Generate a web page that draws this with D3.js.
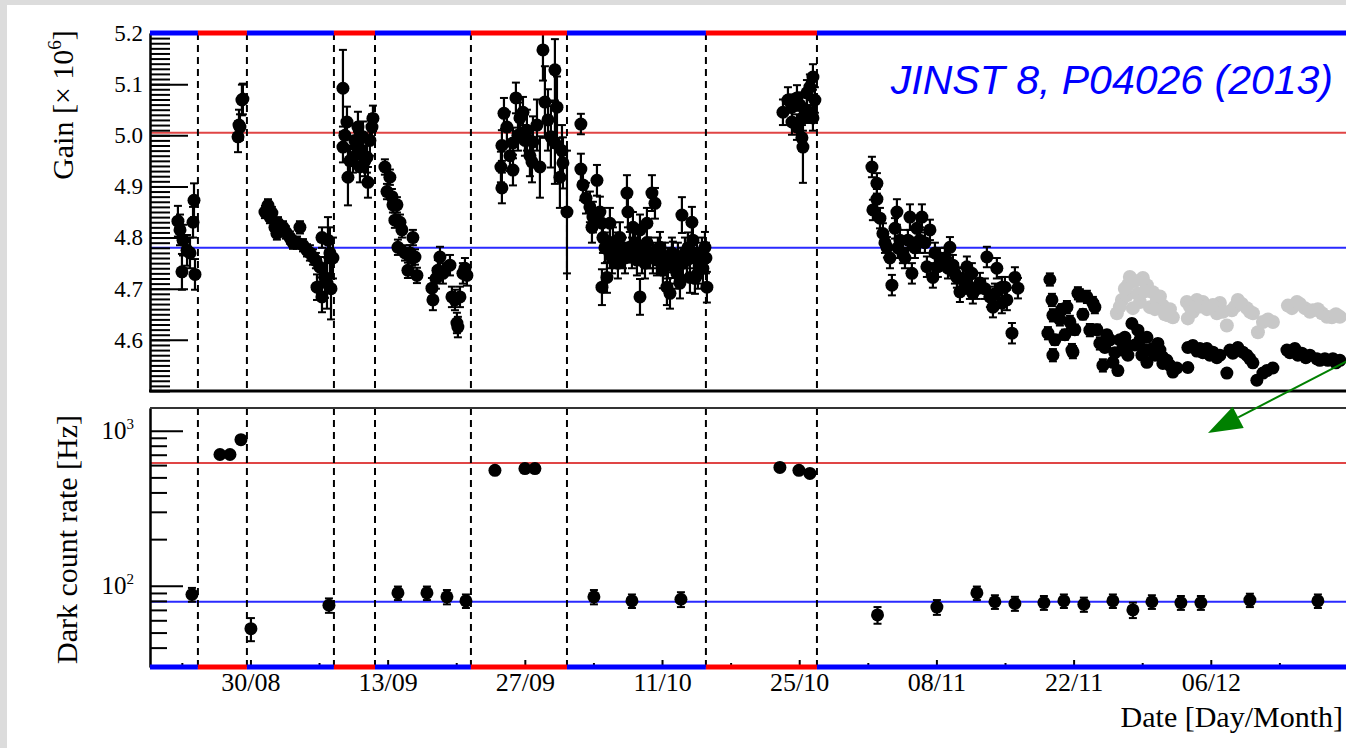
<!DOCTYPE html>
<html>
<head>
<meta charset="utf-8">
<title>Gain and dark count rate vs date</title>
<script src="https://d3js.org/d3.v7.min.js"></script>
<style>
  body { margin: 0; background: #fff; }
  svg { display: block; }
  text { font-family: "Liberation Serif", "Times New Roman", serif; fill: #000; }
  .tick line { stroke: #000; stroke-width: 2px; }
  .domain { stroke: #000; stroke-width: 2px; }
</style>
</head>
<body>
<svg></svg>
<script>
// days counted from 1 Aug 2012, 00:00 UTC
var axisStartDay = 18.75, axisEndDay = 140.9;

// gain [x 10^6] of the monitored PMT
var gainDay = [
  21.60, 21.81, 22.01, 22.12, 22.53, 22.83, 23.14, 23.24, 23.34,
  27.73, 27.83, 27.93, 28.13, 28.23,
  30.48, 30.79, 30.99, 31.19, 31.50, 31.70, 31.81, 32.32, 32.62, 33.03, 33.34, 33.75, 34.05, 34.36, 34.77,
  35.07, 35.38, 35.68, 35.79, 36.09, 36.30, 36.30, 36.60, 36.81, 36.91, 37.11, 37.22, 37.42,
  38.44, 38.44, 38.64, 38.85, 38.95, 39.15, 39.46, 39.66, 39.87, 39.97, 40.17, 40.38, 40.48, 40.68, 40.89,
  40.99, 41.19, 41.40, 41.50,
  42.72, 42.93, 43.23, 43.44, 43.54, 43.74, 43.95, 44.05, 44.26, 44.46, 44.77, 45.07, 45.28, 45.48, 45.58,
  45.79, 45.99, 47.52, 47.62, 47.93, 48.13, 48.34, 48.64, 49.36, 49.56, 49.87, 50.07, 50.17, 50.38, 50.68,
  50.89, 51.09,
  54.56, 54.66, 54.66, 54.87, 55.17, 55.48, 55.79, 55.79, 56.09, 56.30, 56.50, 56.81, 57.01, 57.21, 57.52,
  57.73, 57.83, 58.24, 58.54, 58.85, 59.05, 59.36, 59.66, 60.07, 60.07, 60.28, 60.58, 60.79, 60.89, 61.30,
  62.72, 62.72, 62.93, 63.24, 63.64, 63.85, 63.95, 64.36, 64.66, 64.87, 64.87, 64.97, 65.38, 65.68, 65.68,
  65.99, 66.19, 66.50, 66.70, 67.22, 67.42, 67.52, 67.72, 68.03, 68.24, 68.44, 68.75, 68.75, 69.26, 69.46,
  69.46, 69.77, 69.97, 70.28, 70.48, 70.79, 71.09, 71.30, 71.50, 71.81, 72.11, 72.32, 72.52, 72.83, 73.03,
  73.34, 73.54, 73.85, 74.05, 74.15, 74.36, 74.56, 74.87, 75.17, 75.38, 75.58,
  65.17, 65.89, 66.40, 67.01, 67.93, 68.54, 68.95, 69.56, 70.07, 70.58, 70.99, 71.60, 72.01, 72.62, 73.13,
  73.64, 74.25, 74.66, 75.07, 75.48,
  83.34, 83.85, 84.26, 84.26, 84.77, 84.77, 85.07, 85.28, 85.38, 85.38, 85.79, 85.79, 86.09, 86.40, 86.40, 86.60,
  92.42, 92.52, 92.93, 92.93, 93.24, 93.54, 93.95, 94.46, 94.77, 94.97, 95.28, 95.58, 96.09, 96.30, 96.50,
  97.01, 97.32, 97.52, 98.03, 98.34, 98.64, 98.85, 99.15, 99.87, 100.38, 100.68, 101.09, 101.40, 101.70, 102.11,
  102.62, 102.72, 103.13, 103.44, 104.15, 104.46, 104.77, 105.17, 105.68, 105.68, 105.99, 106.19, 106.71, 107.01, 107.32,
  93.75, 94.26, 95.07, 95.79, 96.81, 97.83, 99.36, 100.18, 100.89, 101.91, 102.42, 103.95, 104.97,
  110.38, 110.58, 110.79, 110.89, 110.89, 111.60, 112.32, 112.62, 112.83, 112.93, 113.44, 113.64, 114.36, 114.66, 114.97,
  115.17, 115.68, 115.99, 116.40, 116.70, 117.01, 117.52, 117.93, 118.23, 118.54, 118.95, 119.26, 119.56, 119.97, 120.48,
  120.48, 120.79, 121.09, 121.60, 122.11, 122.11, 122.83, 123.13, 124.66, 124.66, 125.17, 125.89, 126.60, 127.22, 127.93,
  128.64, 129.25, 129.76, 130.27, 130.99, 131.70, 132.32, 133.34, 134.77, 135.58, 136.29, 137.11, 137.83, 138.64, 139.46,
  140.17,
  111.09, 111.81, 112.11, 113.13, 113.95, 115.38, 116.19, 117.21, 117.72, 118.44, 119.77, 120.28, 121.30, 121.81, 122.52,
  123.54, 125.58, 126.19, 126.91, 127.62, 128.95, 130.68, 131.30, 132.73, 135.07, 135.89, 136.70, 138.13, 138.95, 139.77
];
var gainVal = [
  4.832, 4.815, 4.733, 4.795, 4.775, 4.770, 4.830, 4.873, 4.728,
  4.997, 5.020, 5.016, 5.069, 5.071,
  4.850, 4.863, 4.840, 4.848, 4.820, 4.808, 4.828, 4.820, 4.810, 4.800, 4.790, 4.790, 4.820, 4.785, 4.775,
  4.770, 4.762, 4.755, 4.703, 4.742, 4.800, 4.684, 4.722, 4.711, 4.795, 4.770, 4.700, 4.760,
  5.092, 4.977, 5.000, 5.026, 4.918, 4.950, 4.957, 4.990, 4.977, 5.016, 4.938, 4.965, 4.997, 4.950, 4.957,
  4.908, 4.990, 5.016, 5.033,
  4.938, 4.890, 4.918, 4.880, 4.864, 4.834, 4.864, 4.781, 4.830, 4.815, 4.770, 4.736, 4.770, 4.760, 4.800,
  4.762, 4.726, 4.701, 4.678, 4.720, 4.736, 4.762, 4.730, 4.746, 4.684, 4.678, 4.633, 4.625, 4.684, 4.730,
  4.740, 4.726,
  4.938, 4.980, 4.897, 5.043, 5.016, 4.960, 4.985, 4.932, 5.073, 5.000, 5.034, 5.045, 4.990, 5.010, 4.960,
  4.948, 4.987, 5.020, 4.938, 5.167, 5.065, 5.030, 4.997, 5.128, 4.985, 5.055, 4.918, 4.970, 4.946, 4.850,
  5.022, 4.934, 4.903, 4.877, 4.860, 4.820, 4.840, 4.912, 4.850, 4.828, 4.703, 4.800, 4.722, 4.828, 4.770,
  4.790, 4.770, 4.750, 4.800, 4.760, 4.887, 4.850, 4.781, 4.820, 4.790, 4.756, 4.684, 4.815, 4.750, 4.790,
  4.828, 4.770, 4.887, 4.867, 4.756, 4.781, 4.736, 4.760, 4.703, 4.691, 4.762, 4.740, 4.730, 4.711, 4.844,
  4.770, 4.756, 4.722, 4.830, 4.795, 4.720, 4.760, 4.750, 4.740, 4.781, 4.703,
  4.780, 4.760, 4.780, 4.770, 4.770, 4.780, 4.760, 4.770, 4.760, 4.770, 4.760, 4.750, 4.770, 4.760, 4.750,
  4.780, 4.770, 4.730, 4.770, 4.760,
  5.045, 5.069, 5.055, 5.026, 5.073, 5.016, 5.059, 4.995, 5.034, 4.977, 5.083, 5.049, 5.094, 5.114, 5.034, 5.069,
  4.938, 4.854, 4.906, 4.875, 4.838, 4.808, 4.781, 4.707, 4.818, 4.850, 4.795, 4.770, 4.795, 4.840, 4.730,
  4.818, 4.795, 4.840, 4.743, 4.815, 4.722, 4.770, 4.743, 4.760, 4.781, 4.746, 4.722, 4.694, 4.720, 4.743,
  4.730, 4.691, 4.700, 4.711, 4.762, 4.684, 4.664, 4.740, 4.703, 4.672, 4.703, 4.678, 4.613, 4.722, 4.701,
  4.790, 4.760, 4.780, 4.760, 4.780, 4.790, 4.760, 4.740, 4.730, 4.710, 4.700, 4.700, 4.690,
  4.613, 4.718, 4.678, 4.648, 4.570, 4.640, 4.664, 4.635, 4.580, 4.576, 4.691, 4.687, 4.684, 4.619, 4.672,
  4.664, 4.593, 4.550, 4.610, 4.600, 4.556, 4.540, 4.580, 4.605, 4.570, 4.632, 4.590, 4.619, 4.570, 4.605,
  4.556, 4.580, 4.583, 4.593, 4.566, 4.554, 4.550, 4.537, 4.585, 4.546, 4.589, 4.583, 4.583, 4.576, 4.570,
  4.535, 4.574, 4.585, 4.576, 4.563, 4.521, 4.535, 4.545, 4.580, 4.583, 4.574, 4.570, 4.563, 4.563, 4.563,
  4.560,
  4.600, 4.660, 4.610, 4.620, 4.650, 4.620, 4.585, 4.575, 4.600, 4.590, 4.600, 4.580, 4.570, 4.580, 4.560,
  4.545, 4.578, 4.575, 4.570, 4.565, 4.580, 4.570, 4.555, 4.540, 4.575, 4.570, 4.565, 4.560, 4.560, 4.555
];
var gainErr = [
  0.030, 0.030, 0.035, 0.030, 0.030, 0.030, 0.030, 0.033, 0.030,
  0.030, 0.030, 0.025, 0.030, 0.030,
  0.012, 0.012, 0.012, 0.012, 0.012, 0.012, 0.012, 0.012, 0.012, 0.012, 0.012, 0.012, 0.012, 0.012, 0.012,
  0.015, 0.015, 0.015, 0.025, 0.020, 0.020, 0.030, 0.040, 0.050, 0.045, 0.050, 0.060, 0.040,
  0.075, 0.030, 0.030, 0.030, 0.055, 0.030, 0.030, 0.030, 0.030, 0.030, 0.030, 0.030, 0.030, 0.030, 0.030,
  0.030, 0.030, 0.025, 0.025,
  0.015, 0.015, 0.015, 0.015, 0.015, 0.015, 0.015, 0.015, 0.015, 0.015, 0.015, 0.015, 0.015, 0.015, 0.015,
  0.015, 0.015, 0.020, 0.020, 0.020, 0.020, 0.020, 0.020, 0.020, 0.020, 0.020, 0.020, 0.020, 0.020, 0.020,
  0.020, 0.020,
  0.030, 0.030, 0.030, 0.030, 0.030, 0.030, 0.030, 0.030, 0.030, 0.030, 0.030, 0.030, 0.030, 0.040, 0.040,
  0.040, 0.050, 0.050, 0.060, 0.060, 0.070, 0.060, 0.060, 0.060, 0.080, 0.060, 0.060, 0.050, 0.050, 0.120,
  0.020, 0.030, 0.030, 0.030, 0.030, 0.030, 0.030, 0.030, 0.030, 0.030, 0.035, 0.030, 0.030, 0.030, 0.030,
  0.030, 0.030, 0.030, 0.030, 0.030, 0.035, 0.030, 0.030, 0.030, 0.030, 0.030, 0.035, 0.030, 0.030, 0.030,
  0.030, 0.030, 0.035, 0.030, 0.030, 0.030, 0.035, 0.030, 0.035, 0.030, 0.030, 0.030, 0.030, 0.030, 0.035,
  0.030, 0.030, 0.030, 0.030, 0.030, 0.030, 0.030, 0.030, 0.030, 0.030, 0.030,
  0.030, 0.030, 0.030, 0.030, 0.030, 0.030, 0.030, 0.030, 0.030, 0.030, 0.030, 0.030, 0.030, 0.030, 0.030,
  0.030, 0.030, 0.030, 0.030, 0.030,
  0.025, 0.025, 0.025, 0.025, 0.025, 0.025, 0.025, 0.025, 0.025, 0.070, 0.025, 0.025, 0.025, 0.025, 0.025, 0.025,
  0.020, 0.020, 0.020, 0.020, 0.020, 0.020, 0.020, 0.020, 0.020, 0.025, 0.020, 0.020, 0.020, 0.025, 0.020,
  0.020, 0.025, 0.025, 0.020, 0.020, 0.020, 0.020, 0.020, 0.020, 0.020, 0.020, 0.020, 0.020, 0.020, 0.020,
  0.020, 0.020, 0.020, 0.020, 0.020, 0.020, 0.020, 0.020, 0.020, 0.020, 0.020, 0.020, 0.020, 0.020, 0.020,
  0.020, 0.020, 0.020, 0.020, 0.020, 0.020, 0.020, 0.020, 0.020, 0.020, 0.020, 0.020, 0.020,
  0.012, 0.012, 0.012, 0.012, 0.012, 0.012, 0.012, 0.012, 0.012, 0.012, 0.012, 0.012, 0.012, 0.012, 0.012,
  0.012, 0.012, 0.012, 0.008, 0.008, 0.008, 0.008, 0.008, 0.008, 0.008, 0.008, 0.008, 0.008, 0.008, 0.008,
  0.008, 0.008, 0.008, 0.008, 0.008, 0.008, 0.008, 0.008, 0.008, 0.008, 0.008, 0.008, 0.008, 0.008, 0.008,
  0.008, 0.008, 0.008, 0.008, 0.008, 0.008, 0.008, 0.008, 0.008, 0.008, 0.008, 0.008, 0.008, 0.008, 0.008,
  0.008,
  0.010, 0.010, 0.010, 0.010, 0.010, 0.010, 0.008, 0.008, 0.008, 0.008, 0.008, 0.008, 0.008, 0.008, 0.008,
  0.008, 0.008, 0.008, 0.008, 0.008, 0.008, 0.008, 0.008, 0.008, 0.008, 0.008, 0.008, 0.008, 0.008, 0.008
];

// gain of the second (grey) PMT shown at the end of the period
var greyDay = [
  117.42, 117.93, 118.44, 118.54, 118.74, 119.05, 119.77, 120.07, 120.48, 120.79, 121.09, 121.50, 122.11,
  122.62, 123.13, 124.56, 124.66, 125.58, 126.19, 126.91, 127.62, 127.93, 128.64, 129.15, 129.76, 130.68,
  131.30, 131.81, 132.32, 133.34, 134.87, 135.79, 136.60, 137.42, 138.34, 139.36, 140.17,
  117.72, 118.23, 119.26, 119.56, 120.28, 121.30, 121.81, 122.32, 122.83, 124.87, 125.17, 125.89, 126.60,
  127.22, 128.24, 129.46, 130.17, 130.99, 132.83, 135.28, 136.09, 137.11, 137.93, 138.85, 139.77
];
var greyVal = [
  4.652, 4.678, 4.687, 4.707, 4.723, 4.662, 4.674, 4.721, 4.707, 4.664, 4.693, 4.678, 4.667,
  4.648, 4.644, 4.674, 4.642, 4.678, 4.674, 4.664, 4.652, 4.672, 4.628, 4.658, 4.678, 4.662,
  4.652, 4.615, 4.635, 4.635, 4.667, 4.674, 4.662, 4.658, 4.652, 4.644, 4.645,
  4.665, 4.700, 4.715, 4.690, 4.695, 4.660, 4.685, 4.650, 4.660, 4.665, 4.655, 4.665, 4.660,
  4.668, 4.655, 4.665, 4.670, 4.655, 4.640, 4.662, 4.670, 4.655, 4.660, 4.645, 4.650
];

// dark count rate [Hz]
var darkDay = [
  23.03, 25.89, 26.91, 28.03, 29.05, 37.01, 44.05, 47.01, 49.05, 50.99, 53.95, 57.01, 58.03, 64.05, 67.93,
  72.93, 83.03, 84.97, 86.09, 92.99, 99.05, 103.13, 104.97, 107.01, 109.97, 112.01, 114.05, 117.01, 119.05,
  120.99, 123.95, 125.99, 130.99, 137.93
];
var darkVal = [
  88, 702, 702, 875, 53, 75, 90, 90, 85, 80, 555, 570, 570, 85, 80,
  82, 580, 555, 530, 65, 73, 90, 79, 77, 78, 80, 76, 80, 70,
  79, 78, 78, 81, 80
];
var darkErr = [
  9, 30, 30, 35, 9, 8, 9, 9, 9, 8, 20, 20, 20, 9, 8,
  9, 20, 20, 20, 8, 8, 9, 8, 8, 8, 8, 8, 8, 8,
  8, 8, 8, 8, 8
];

// boundaries between running periods (dashed lines), first period is "blue"
var periodEdges = [23.64, 28.64, 37.52, 41.71, 51.50, 61.30, 75.48, 86.81];
var gainRefLines = [5.005, 4.78];
var darkRefLines = [620, 79];
var gainTicks = [4.6, 4.7, 4.8, 4.9, 5.0, 5.1, 5.2];
var darkTicks = [100, 1000];

//begin: layout conf.
var svgWidth = 1346, svgHeight = 748,
  left = 150, right = 1347,
  gainTop = 33, gainBottom = 391,
  darkTop = 408, darkBottom = 667,
  markerR = 6.5, greyR = 7, capW = 4;
var periodColors = ["#0000ff", "#ff0000"];
//end: layout conf.

function dayToDate(d) { return new Date(Date.UTC(2012, 7, 1) + d * 864e5); }

var x = d3.scaleUtc()
  .domain([dayToDate(axisStartDay), dayToDate(axisEndDay)])
  .range([left, right]);
var yGain = d3.scaleLinear().domain([4.5, 5.2]).range([gainBottom, gainTop]);
var yDark = d3.scaleLog().domain([30, 1400]).range([darkBottom, darkTop]);

var svg = d3.select("svg").attr("width", svgWidth).attr("height", svgHeight);

// grey page frame
svg.append("rect").attr("width", svgWidth).attr("height", svgHeight).attr("fill", "#dcdcdc");
svg.append("rect").attr("x", 7).attr("y", 5).attr("width", svgWidth).attr("height", svgHeight).attr("fill", "#fff");

var defs = svg.append("defs");
defs.append("clipPath").attr("id", "clipGain").append("rect")
  .attr("x", left).attr("y", gainTop).attr("width", right - left + 20).attr("height", gainBottom - gainTop);
defs.append("clipPath").attr("id", "clipDark").append("rect")
  .attr("x", left).attr("y", darkTop).attr("width", right - left + 20).attr("height", darkBottom - darkTop);

var gainData = gainDay.map(function (d, i) { return { t: dayToDate(d), v: gainVal[i], e: gainErr[i] }; });
var greyData = greyDay.map(function (d, i) { return { t: dayToDate(d), v: greyVal[i] }; });
var darkData = darkDay.map(function (d, i) { return { t: dayToDate(d), v: darkVal[i], e: darkErr[i] }; });

var bounds = [axisStartDay].concat(periodEdges, [axisEndDay]);
var periods = d3.pairs(bounds).map(function (p, i) {
  return { t0: dayToDate(p[0]), t1: dayToDate(p[1]), color: periodColors[i % 2] };
});

// ---------- gain panel ----------
var gainPanel = svg.append("g");
var gainPlot = gainPanel.append("g").attr("clip-path", "url(#clipGain)");

gainPlot.selectAll(".ref").data(gainRefLines).enter().append("line")
  .attr("x1", left).attr("x2", right)
  .attr("y1", yGain).attr("y2", yGain)
  .attr("stroke", function (d, i) { return i === 0 ? "#e04545" : "#2a2aff"; })
  .attr("stroke-width", 2);

gainPlot.selectAll(".edge").data(periodEdges).enter().append("line")
  .attr("x1", function (d) { return x(dayToDate(d)); })
  .attr("x2", function (d) { return x(dayToDate(d)); })
  .attr("y1", gainTop).attr("y2", gainBottom)
  .attr("stroke", "#000").attr("stroke-width", 2).attr("stroke-dasharray", "7,5");

gainPlot.selectAll(".grey").data(greyData).enter().append("circle")
  .attr("cx", function (d) { return x(d.t); })
  .attr("cy", function (d) { return yGain(d.v); })
  .attr("r", greyR).attr("fill", "#c8c8c8");

drawErrorPoints(gainPlot, gainData, yGain);

// left axis, ROOT style ticks pointing inwards
gainPanel.append("g")
  .attr("transform", "translate(" + left + ",0)")
  .call(d3.axisLeft(yGain).tickValues(d3.range(450, 521).map(function (v) { return v / 100; }))
    .tickSize(-20).tickSizeOuter(0).tickFormat(""));
gainPanel.append("g")
  .attr("transform", "translate(" + left + ",0)")
  .call(d3.axisLeft(yGain).tickValues(gainTicks).tickSize(-38).tickSizeOuter(0).tickPadding(7)
    .tickFormat(d3.format(".1f")))
  .call(function (g) { g.selectAll("text").attr("font-size", 23).attr("font-family", null); });

gainPanel.append("line")
  .attr("x1", left - 1).attr("x2", right).attr("y1", gainBottom).attr("y2", gainBottom)
  .attr("stroke", "#000").attr("stroke-width", 3);
drawPeriodBar(gainPanel, gainTop);

var gainTitle = gainPanel.append("text")
  .attr("transform", "translate(73," + (gainTop + 72) + ") rotate(-90)")
  .attr("text-anchor", "middle")
  .attr("font-size", 30);
gainTitle.append("tspan").text("Gain [\u00d7 10");
gainTitle.append("tspan").attr("dy", -12).attr("font-size", 19).text("6");
gainTitle.append("tspan").attr("dy", 12).text("]");

// ---------- dark count panel ----------
var darkPanel = svg.append("g");
var darkPlot = darkPanel.append("g").attr("clip-path", "url(#clipDark)");

darkPlot.selectAll(".ref").data(darkRefLines).enter().append("line")
  .attr("x1", left).attr("x2", right)
  .attr("y1", yDark).attr("y2", yDark)
  .attr("stroke", function (d, i) { return i === 0 ? "#e04545" : "#2a2aff"; })
  .attr("stroke-width", 2);

darkPlot.selectAll(".edge").data(periodEdges).enter().append("line")
  .attr("x1", function (d) { return x(dayToDate(d)); })
  .attr("x2", function (d) { return x(dayToDate(d)); })
  .attr("y1", darkTop).attr("y2", darkBottom)
  .attr("stroke", "#000").attr("stroke-width", 2).attr("stroke-dasharray", "7,5");

drawErrorPoints(darkPlot, darkData, yDark);

var minorDark = yDark.ticks().filter(function (v) { return darkTicks.indexOf(v) < 0; });
darkPanel.append("g")
  .attr("transform", "translate(" + left + ",0)")
  .call(d3.axisLeft(yDark).tickValues(minorDark).tickSize(-17).tickSizeOuter(0).tickFormat(""));
var darkAxis = darkPanel.append("g")
  .attr("transform", "translate(" + left + ",0)")
  .call(d3.axisLeft(yDark).tickValues(darkTicks).tickSize(-33).tickSizeOuter(0).tickFormat(""));
darkAxis.selectAll(".tick").each(function (d) {
  var t = d3.select(this).append("text")
    .attr("x", -16).attr("dy", "0.32em")
    .attr("text-anchor", "end").attr("font-size", 25);
  t.append("tspan").text("10");
  t.append("tspan").attr("dy", -10).attr("font-size", 15).text(Math.round(Math.log10(d)));
});

darkPanel.append("line")
  .attr("x1", left).attr("x2", right).attr("y1", darkTop).attr("y2", darkTop)
  .attr("stroke", "#333").attr("stroke-width", 2);

// bottom time axis
var majorTicks = d3.utcDay.range(dayToDate(29), dayToDate(axisEndDay), 14);
var minorTicks = d3.utcDay.range(dayToDate(22), dayToDate(axisEndDay), 7)
  .filter(function (t) { return !majorTicks.some(function (m) { return +m === +t; }); });
darkPanel.append("g")
  .attr("transform", "translate(0," + darkBottom + ")")
  .call(d3.axisBottom(x).tickValues(minorTicks).tickSize(-4).tickSizeOuter(0).tickFormat(""))
  .call(function (g) { g.select(".domain").remove(); });
darkPanel.append("g")
  .attr("transform", "translate(0," + darkBottom + ")")
  .call(d3.axisBottom(x).tickValues(majorTicks).tickSize(-7).tickSizeOuter(0).tickPadding(6)
    .tickFormat(d3.utcFormat("%d/%m")))
  .call(function (g) {
    g.select(".domain").remove();
    g.selectAll("text").attr("font-size", 26).attr("font-family", null);
  });
drawPeriodBar(darkPanel, darkBottom);

darkPanel.append("text")
  .attr("transform", "translate(77," + ((darkTop + darkBottom) / 2 + 2) + ") rotate(-90)")
  .attr("text-anchor", "middle")
  .attr("font-size", 30)
  .text("Dark count rate [Hz]");

svg.append("text")
  .attr("x", 1343).attr("y", 727)
  .attr("text-anchor", "end")
  .attr("font-size", 30)
  .text("Date [Day/Month]");

// reference note
svg.append("text")
  .attr("x", 1333).attr("y", 94)
  .attr("text-anchor", "end")
  .style("font-family", "'Liberation Sans', Arial, sans-serif")
  .style("font-style", "italic")
  .style("fill", "#0000ff")
  .attr("font-size", 41)
  .text("JINST 8, P04026 (2013)");

// green arrow
var tip = [1208, 433], dir = [0.888, -0.459], headLen = 34, headHalf = 12;
var base = [tip[0] + dir[0] * headLen, tip[1] + dir[1] * headLen];
svg.append("line")
  .attr("x1", tip[0] + dir[0] * 200).attr("y1", tip[1] + dir[1] * 200)
  .attr("x2", base[0]).attr("y2", base[1])
  .attr("stroke", "#008000").attr("stroke-width", 2);
svg.append("path")
  .attr("d", "M" + tip + "L" + [base[0] - dir[1] * headHalf, base[1] + dir[0] * headHalf] +
    "L" + [base[0] + dir[1] * headHalf, base[1] - dir[0] * headHalf] + "Z")
  .attr("fill", "#008000");

function drawErrorPoints(g, data, y) {
  var pts = g.append("g").selectAll("g").data(data).enter().append("g");
  pts.append("line")
    .attr("x1", function (d) { return x(d.t); })
    .attr("x2", function (d) { return x(d.t); })
    .attr("y1", function (d) { return y(d.v - d.e); })
    .attr("y2", function (d) { return y(d.v + d.e); })
    .attr("stroke", "#000").attr("stroke-width", 2.2);
  [-1, 1].forEach(function (s) {
    pts.append("line")
      .attr("x1", function (d) { return x(d.t) - capW; })
      .attr("x2", function (d) { return x(d.t) + capW; })
      .attr("y1", function (d) { return y(d.v + s * d.e); })
      .attr("y2", function (d) { return y(d.v + s * d.e); })
      .attr("stroke", "#000").attr("stroke-width", 2);
  });
  pts.append("circle")
    .attr("cx", function (d) { return x(d.t); })
    .attr("cy", function (d) { return y(d.v); })
    .attr("r", markerR).attr("fill", "#000");
}

function drawPeriodBar(g, yPos) {
  g.append("g").selectAll("line").data(periods).enter().append("line")
    .attr("x1", function (d) { return x(d.t0); })
    .attr("x2", function (d) { return x(d.t1); })
    .attr("y1", yPos).attr("y2", yPos)
    .attr("stroke", function (d) { return d.color; })
    .attr("stroke-width", 5);
}
</script>
</body>
</html>
